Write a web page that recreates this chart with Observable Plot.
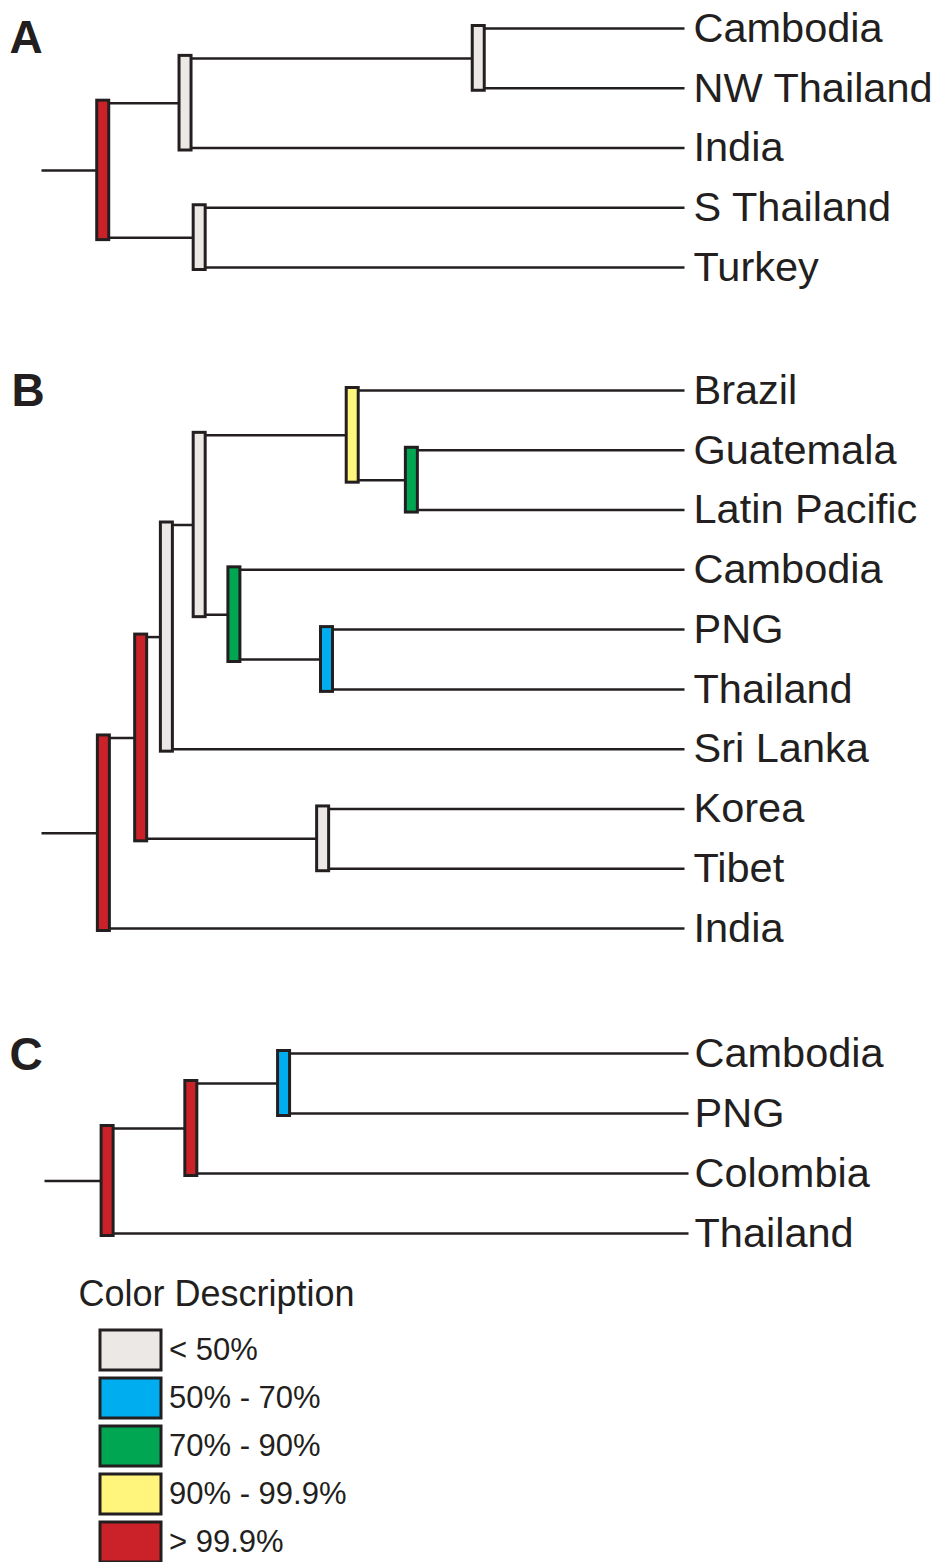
<!DOCTYPE html>
<html><head><meta charset="utf-8">
<script src="https://cdn.jsdelivr.net/npm/d3@7"></script>
<script src="https://cdn.jsdelivr.net/npm/@observablehq/plot@0.6"></script>
<style>
body{margin:0;background:#fff;}
#fig{width:933px;}
#fig svg{display:block;}
</style></head><body><div id="fig"></div>
<script>
// Support classes (legend) and their colours
const supportClasses = ["< 50%", "50% - 70%", "70% - 90%", "90% - 99.9%", "> 99.9%"];
const supportColors = ["#ebe8e5", "#00aeef", "#00a651", "#fff57c", "#cb2229"];

// Panel A
const leavesA = ["Cambodia", "NW Thailand", "India", "S Thailand", "Turkey"];
const leafParentA = ["a2", "a2", "a1", "a3", "a3"];
const nodesA = ["a0", "a1", "a2", "a3"];
const nodeParentA = [null, "a0", "a1", "a0"];
const nodeDepthA = [9.6, 22.4, 68.0, 24.6];
const nodeSupportA = ["> 99.9%", "< 50%", "< 50%", "< 50%"];

// Panel B
const leavesB = ["Brazil", "Guatemala", "Latin Pacific", "Cambodia", "PNG", "Thailand", "Sri Lanka", "Korea", "Tibet", "India"];
const leafParentB = ["b5", "b6", "b6", "b7", "b8", "b8", "b3", "b9", "b9", "b1"];
const nodesB = ["b1", "b2", "b3", "b4", "b5", "b6", "b7", "b8", "b9"];
const nodeParentB = [null, "b1", "b2", "b3", "b4", "b5", "b4", "b7", "b2"];
const nodeDepthB = [9.7, 15.5, 19.5, 24.6, 48.4, 57.6, 30.0, 44.4, 43.8];
const nodeSupportB = ["> 99.9%", "> 99.9%", "< 50%", "< 50%", "90% - 99.9%", "70% - 90%", "70% - 90%", "50% - 70%", "< 50%"];

// Panel C
const leavesC = ["Cambodia", "PNG", "Colombia", "Thailand"];
const leafParentC = ["c3", "c3", "c2", "c1"];
const nodesC = ["c1", "c2", "c3"];
const nodeParentC = [null, "c1", "c2"];
const nodeDepthC = [9.8, 22.8, 37.2];
const nodeSupportC = ["> 99.9%", "> 99.9%", "50% - 70%"];

const INK = "#231f20";
const FONT = "'Liberation Sans', Arial, Helvetica, sans-serif";

function buildTree(leaves, leafParent, nodes, nodeParent, nodeDepth, nodeSupport) {
  const N = new Map();
  nodes.forEach((id, i) => N.set(id, {id, parent: nodeParent[i], depth: nodeDepth[i], support: nodeSupport[i], children: []}));
  const L = leaves.map((name, i) => ({name, parent: leafParent[i], depth: 100, row: i, leaf: true}));
  L.forEach(l => N.get(l.parent).children.push(l));
  nodes.forEach((id, i) => { if (nodeParent[i]) N.get(nodeParent[i]).children.push(N.get(id)); });
  function rowOf(n) {
    if (n.leaf) return n.row;
    const rs = n.children.map(rowOf);
    n.y1 = Math.min(...rs); n.y2 = Math.max(...rs);
    n.row = (n.y1 + n.y2) / 2;
    return n.row;
  }
  const internal = [...N.values()];
  const root = internal.find(n => !n.parent);
  rowOf(root);
  const branches = [...L, ...internal.filter(n => n.parent)].map(n => ({x1: N.get(n.parent).depth, x2: n.depth, y: n.row}));
  branches.push({x1: 0, x2: root.depth, y: root.row});
  return {leaves: L, internal, branches, n: leaves.length};
}

function panel(letter, tree, o) {
  return Plot.plot({
    width: 933, height: o.height,
    marginTop: o.mt, marginBottom: o.mb, marginLeft: o.ml, marginRight: o.mr,
    style: {fontFamily: FONT, background: "#fff", color: INK},
    x: {domain: [0, 100], axis: null},
    y: {domain: [0, tree.n - 1], reverse: true, axis: null},
    color: {domain: supportClasses, range: supportColors},
    marks: [
      Plot.link(tree.branches, {x1: "x1", x2: "x2", y1: "y", y2: "y", stroke: INK, strokeWidth: 2.5}),
      Plot.rect(tree.internal, {x1: "depth", x2: "depth", y1: "y1", y2: "y2", fill: "support",
        stroke: INK, strokeWidth: 3, insetLeft: -6, insetRight: -6, insetTop: -2.5, insetBottom: -2.5}),
      Plot.text(tree.leaves, {x: "depth", y: "row", text: "name", textAnchor: "start", dx: o.tdx, fontSize: 41.5, fill: INK}),
      Plot.text([letter], {frameAnchor: "top-left", text: d => d, lineAnchor: "top", fontWeight: "bold",
        fontSize: 46, fill: INK, dx: o.ldx, dy: o.ldy})
    ]
  });
}

const fig = document.getElementById("fig");
const tA = buildTree(leavesA, leafParentA, nodesA, nodeParentA, nodeDepthA, nodeSupportA);
const tB = buildTree(leavesB, leafParentB, nodesB, nodeParentB, nodeDepthB, nodeSupportB);
const tC = buildTree(leavesC, leafParentC, nodesC, nodeParentC, nodeDepthC, nodeSupportC);

fig.append(panel("A", tA, {height: 330, mt: 28, mb: 63, ml: 41, mr: 249, tdx: 9, ldx: -32, ldy: -8}));
fig.append(panel("B", tB, {height: 650, mt: 60, mb: 52, ml: 41, mr: 249, tdx: 9, ldx: -30, ldy: -17}));
fig.append(panel("C", tC, {height: 285, mt: 73, mb: 32, ml: 44, mr: 245, tdx: 6, ldx: -35, ldy: -16}));

// Legend
fig.append(Plot.plot({
  width: 933, height: 297, marginTop: 0, marginBottom: 0, marginLeft: 0, marginRight: 0,
  style: {fontFamily: FONT, background: "#fff", color: INK},
  x: {type: "band", domain: ["swatch"], range: [99.5, 160.5], padding: 0, axis: null},
  y: {type: "band", domain: supportClasses, range: [63.5, 297.5], paddingInner: 0.175, paddingOuter: 0, axis: null},
  color: {domain: supportClasses, range: supportColors},
  marks: [
    Plot.cell(supportClasses, {x: () => "swatch", y: d => d, fill: d => d, stroke: INK, strokeWidth: 3, inset: 0}),
    Plot.text(supportClasses, {x: () => "swatch", y: d => d, text: d => d, textAnchor: "start", dx: 38, fontSize: 31, fill: INK}),
    Plot.text(["Color Description"], {frameAnchor: "top-left", text: d => d, lineAnchor: "top", fontSize: 36, fill: INK, dx: 78, dy: 15})
  ]
}));
</script>
</body></html>
